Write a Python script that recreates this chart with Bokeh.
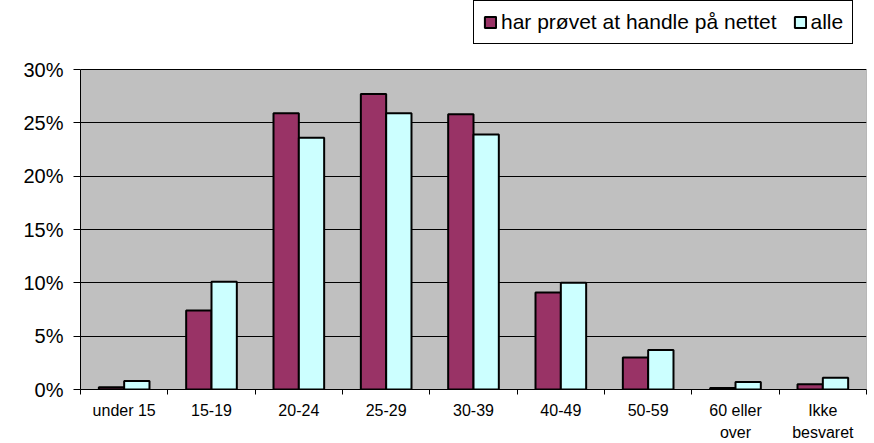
from bokeh.plotting import figure
from bokeh.models import (ColumnDataSource, FixedTicker, NumeralTickFormatter, Legend,
                          LegendItem, Range1d, LinearAxis)
from bokeh.embed import file_html
from bokeh.resources import INLINE

categories = ["under 15", "15-19", "20-24", "25-29", "30-39", "40-49", "50-59",
              "60 eller\nover", "Ikke\nbesvaret"]
har_provet = [0.002, 0.074, 0.259, 0.277, 0.258, 0.091, 0.030, 0.0015, 0.005]
alle = [0.008, 0.101, 0.236, 0.259, 0.239, 0.100, 0.037, 0.007, 0.011]
y_ticks = [0, 0.05, 0.10, 0.15, 0.20, 0.25, 0.30]

n = len(categories)
centers = [i + 0.5 for i in range(n)]
bw = 0.29
src = ColumnDataSource(dict(
    x1=[c - bw / 2 for c in centers],
    x2=[c + bw / 2 for c in centers],
    h=har_provet, a=alle,
))

# frame spans from the top of the page to the bottom of the plot area,
# so that the legend (drawn inside the frame) can sit above the grey area
frame_h = 389
area_h = 320
y_top = y_ticks[-1]
p = figure(width=867, height=443, output_backend="svg", toolbar_location=None,
           x_range=Range1d(0, n), y_range=Range1d(0, y_top * frame_h / area_h),
           min_border_left=80, min_border_right=1, min_border_top=0, min_border_bottom=54,
           x_axis_location=None, y_axis_location=None)
p.background_fill_color = "white"
p.border_fill_color = "white"
p.outline_line_color = None
p.xgrid.visible = False

bg = p.quad(left=[0], right=[n], bottom=[0], top=[y_top], fill_color="#C0C0C0",
            line_color="#808080", line_width=1, level="image")

r1 = p.vbar(x="x1", top="h", width=bw, source=src, fill_color="#993366",
            line_color="black", line_width=2)
r2 = p.vbar(x="x2", top="a", width=bw, source=src, fill_color="#CCFFFF",
            line_color="black", line_width=2)

yaxis = LinearAxis(ticker=FixedTicker(ticks=y_ticks, minor_ticks=[]),
                   formatter=NumeralTickFormatter(format="0%"), bounds=(0, y_top))
yaxis.major_label_text_font = "Liberation Sans"
yaxis.major_label_text_font_size = "20px"
yaxis.major_label_text_color = "black"
yaxis.axis_line_color = "black"
yaxis.major_tick_in = 0
yaxis.major_tick_out = 7
yaxis.minor_tick_line_color = None
yaxis.major_label_standoff = 10
p.add_layout(yaxis, "left")

p.ygrid.ticker = FixedTicker(ticks=y_ticks)
p.ygrid.grid_line_color = "black"
p.ygrid.grid_line_width = 1

xaxis = LinearAxis(ticker=FixedTicker(ticks=centers, minor_ticks=list(range(n + 1))))
xaxis.major_label_overrides = {c: lab for c, lab in zip(centers, categories)}
xaxis.major_label_text_font = "Liberation Sans"
xaxis.major_label_text_font_size = "16px"
xaxis.major_label_text_color = "black"
xaxis.major_label_text_line_height = 1.3
xaxis.axis_line_color = "black"
xaxis.major_tick_line_color = None
xaxis.major_tick_in = 0
xaxis.major_tick_out = 0
xaxis.minor_tick_in = 0
xaxis.minor_tick_out = 5
xaxis.minor_tick_line_color = "black"
xaxis.major_label_standoff = 7
p.add_layout(xaxis, "below")

legend = Legend(items=[LegendItem(label="har prøvet at handle på nettet", renderers=[r1]),
                       LegendItem(label="alle", renderers=[r2])],
                orientation="horizontal", location=(393, 345))
legend.label_text_font = "Liberation Sans"
legend.label_text_font_size = "21px"
legend.label_text_color = "black"
legend.label_height = 17
legend.glyph_width = 14
legend.glyph_height = 14
legend.label_standoff = 4
legend.spacing = 16
legend.padding = 9
legend.margin = 0
legend.border_line_color = "black"
legend.border_line_width = 1
legend.border_line_alpha = 1
legend.background_fill_color = "white"
legend.background_fill_alpha = 1
p.add_layout(legend, "center")

open("out.html", "w").write(file_html(p, INLINE))
